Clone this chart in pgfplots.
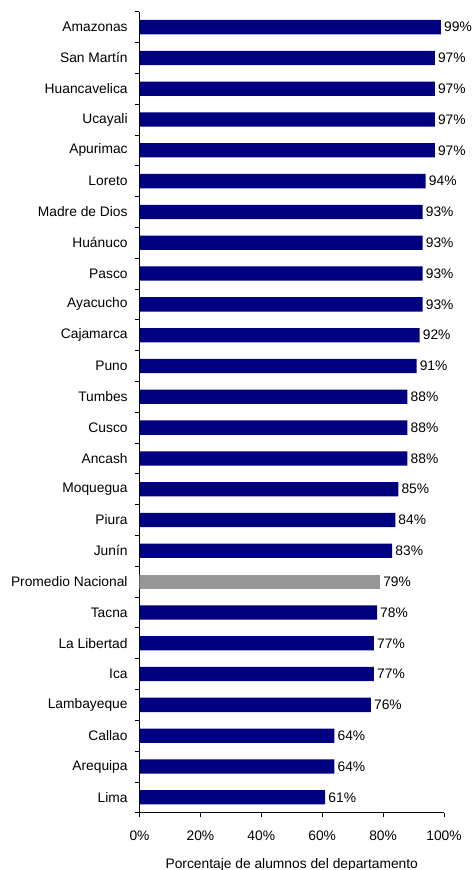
\documentclass[border=0pt]{standalone}
\usepackage{pgfplots}
\pgfplotsset{compat=1.18}
\usepackage{fontspec}
\setmainfont{Liberation Sans}
\definecolor{navy}{HTML}{000080}
\definecolor{gris}{HTML}{969696}
\begin{document}
\fontsize{13.8}{16}\selectfont
\begin{tikzpicture}
\path[use as bounding box] (-139.5pt,-57.3pt) rectangle (333.5pt,801pt+11.7pt);
\begin{axis}[
  scale only axis, width=304.5pt, height=801pt,
  xbar, bar width=14.3pt, bar shift=0pt,
  y dir=reverse,
  xmin=0, xmax=100, ymin=-0.5, ymax=25.5,
  axis x line*=bottom, axis y line*=left,
  axis line style={black, line width=0.8pt},
  tick style={black, line width=0.8pt},
  tick align=outside, major tick length=4.5pt,
  xtick={0,20,...,100},
  xticklabel={\pgfmathprintnumber{\tick}\%},
  xticklabel style={yshift=-9pt},
  ytick={-0.5,0.5,...,25.5},
  y tick label as interval,
  yticklabels={Amazonas,San Martín,Huancavelica,Ucayali,Apurimac,Loreto,Madre de Dios,Huánuco,Pasco,Ayacucho,Cajamarca,Puno,Tumbes,Cusco,Ancash,Moquegua,Piura,Junín,Promedio Nacional,Tacna,La Libertad,Ica,Lambayeque,Callao,Arequipa,Lima},
  yticklabel style={xshift=-2.6pt},
  /pgf/number format/assume math mode=true,
  nodes near coords={\pgfmathprintnumber{\pgfplotspointmeta}\%},
  every node near coord/.append style={text=black, inner xsep=3pt},
  xlabel={Porcentaje de alumnos del departamento},
  xlabel style={at={(axis description cs:0.5,0)}, anchor=base, yshift=-56pt},
]
\addplot[fill=navy, draw=none] coordinates {
(99,0) (97,1) (97,2) (97,3) (97,4) (94,5) (93,6) (93,7) (93,8) (93,9)
(92,10) (91,11) (88,12) (88,13) (88,14) (85,15) (84,16) (83,17)
(78,19) (77,20) (77,21) (76,22) (64,23) (64,24) (61,25)};
\addplot[fill=gris, draw=none] coordinates {(79,18)};
\end{axis}
\end{tikzpicture}
\end{document}
